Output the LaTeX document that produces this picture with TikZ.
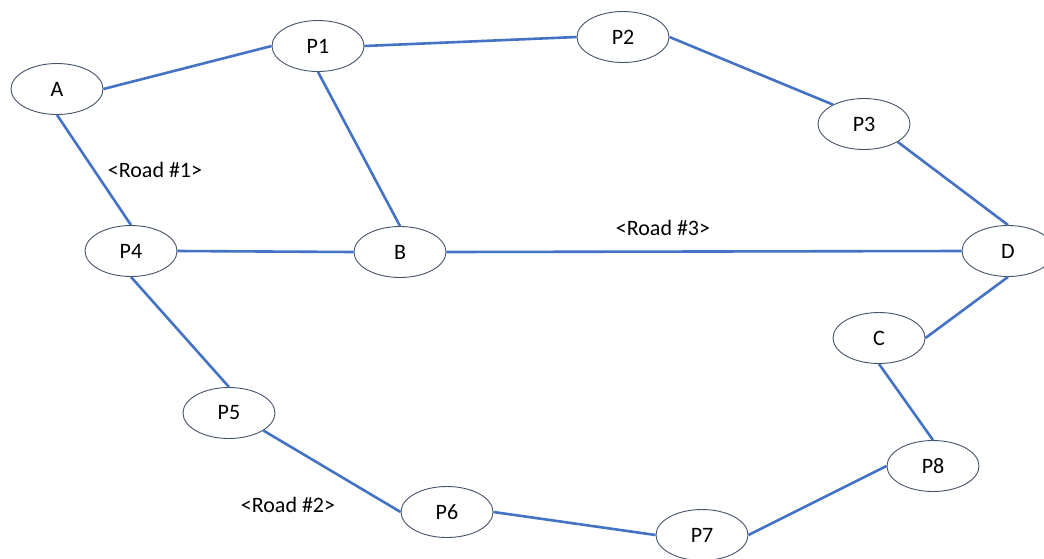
\documentclass[tikz,border=0pt]{standalone}
\usepackage{fontspec}
\setmainfont{Carlito}
\usetikzlibrary{shapes.geometric}
\definecolor{road}{HTML}{4472C4}
\definecolor{rim}{HTML}{46536A}
\tikzset{
  place/.style={ellipse, draw=rim, line width=0.9pt, fill=white,
    minimum width=92pt, minimum height=51pt, inner sep=0pt,
    font=\fontsize{22}{25}\selectfont},
  link/.style={draw=road, line width=2.6pt},
  roadtag/.style={font=\fontsize{22}{25}\selectfont, inner sep=0pt}
}
\begin{document}
\begin{tikzpicture}[x=1pt, y=-1pt]
  \useasboundingbox (0,0) rectangle (1044,558);
  \clip (0,0) rectangle (1044,558);
  \fill[white] (0,0) rectangle (1044,558);

  % places
  \node[place] (A)  at (57,89)   {A};
  \node[place] (P1) at (318,46)  {P1};
  \node[place] (P2) at (623,37)  {P2};
  \node[place] (P3) at (864,124) {P3};
  \node[place] (P4) at (131,251) {P4};
  \node[place] (B)  at (400,252) {B};
  \node[place] (D)  at (1008,251){D};
  \node[place] (C)  at (879,338) {C};
  \node[place] (P5) at (229,413) {P5};
  \node[place] (P6) at (447,512) {P6};
  \node[place] (P7) at (702,535) {P7};
  \node[place] (P8) at (933,466) {P8};

  % roads
  \draw[link] (A.east)   -- (P1.west);
  \draw[link] (P1.east)  -- (P2.west);
  \draw[link] (P2.east)  -- (P3.148);
  \draw[link] (P3.-28)   -- (D.north);
  \draw[link] (P1.south) -- (B.north);
  \draw[link] (A.south)  -- (P4.north);
  \draw[link] (P4.east)  -- (B.west);
  \draw[link] (B.east)   -- (D.west);
  \draw[link] (P4.south) -- (P5.north);
  \draw[link] (P5.-27)   -- (P6.west);
  \draw[link] (P6.east)  -- (P7.west);
  \draw[link] (P7.east)  -- (P8.west);
  \draw[link] (P8.north) -- (C.south);
  \draw[link] (C.east)   -- (D.south);

  % road names
  \node[roadtag] (r1) at (155,170) {<Road \#1>};
  \node[roadtag] (r3) at (663,228) {<Road \#3>};
  \node[roadtag] (r2) at (288,505) {<Road \#2>};
\end{tikzpicture}
\end{document}
